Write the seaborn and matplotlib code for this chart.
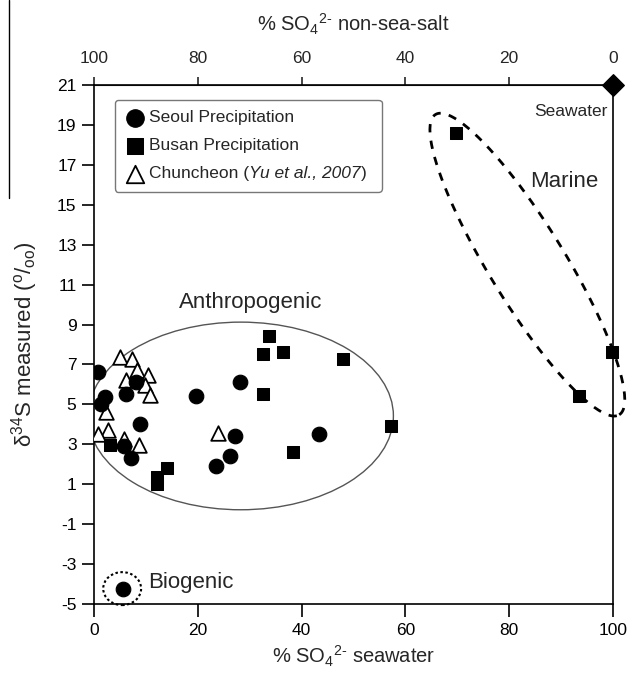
import matplotlib
matplotlib.use("Agg")
import matplotlib.pyplot as plt
import seaborn as sns
import numpy as np
import pandas as pd
from matplotlib.patches import Ellipse
from matplotlib.lines import Line2D

# Seoul precipitation (% SO4 seawater, d34S)
seoul_x = [0.8, 2.1, 1.4, 6.2, 8.2, 8.8, 5.9, 7.2, 19.7, 28.1, 27.2, 26.2, 23.5, 43.3, 5.6]
seoul_y = [6.6, 5.35, 5.0, 5.5, 6.1, 4.0, 2.9, 2.3, 5.4, 6.1, 3.4, 2.4, 1.9, 3.5, -4.25]

# Busan precipitation
busan_x = [33.8, 32.5, 36.5, 47.9, 32.6, 57.2, 38.4, 14.1, 12.1, 12.1, 3.2, 69.7, 99.9, 93.5]
busan_y = [8.4, 7.5, 7.6, 7.25, 5.5, 3.9, 2.6, 1.8, 1.35, 1.0, 2.96, 18.6, 7.6, 5.4]

# Chuncheon (Yu et al., 2007)
chun_x = [5.1, 7.4, 8.3, 10.4, 6.1, 9.8, 10.9, 2.4, 2.8, 0.8, 5.9, 8.6, 24.0]
chun_y = [7.35, 7.25, 6.7, 6.45, 6.2, 5.95, 5.45, 4.6, 3.7, 3.5, 3.25, 2.95, 3.55]

seawater_x = [100]
seawater_y = [21]

bottom_ticks = [0, 20, 40, 60, 80, 100]
top_ticks = [100, 80, 60, 40, 20, 0]
y_ticks = list(range(-5, 22, 2))

sns.set_style("white")
plt.rcParams["font.family"] = ["Liberation Sans", "DejaVu Sans"]
plt.rcParams["mathtext.fontset"] = "custom"
plt.rcParams["mathtext.rm"] = "Liberation Sans"
plt.rcParams["mathtext.it"] = "Liberation Sans:italic"
plt.rcParams["axes.unicode_minus"] = False

fig = plt.figure(figsize=(6.3, 6.82), dpi=100)
ax = fig.add_axes([0.149, 0.1144, 0.824, 0.761])

seoul = pd.DataFrame({"x": seoul_x, "y": seoul_y})
busan = pd.DataFrame({"x": busan_x, "y": busan_y})
chun = pd.DataFrame({"x": chun_x, "y": chun_y})

sns.scatterplot(data=seoul, x="x", y="y", marker="o", s=110, color="black",
                edgecolor="black", ax=ax, zorder=4, label="Seoul Precipitation")
sns.scatterplot(data=busan, x="x", y="y", marker="s", s=85, color="black",
                edgecolor="black", ax=ax, zorder=4, clip_on=False,
                label="Busan Precipitation")
sns.scatterplot(data=chun, x="x", y="y", marker="^", s=110, facecolor="white",
                edgecolor="black", linewidth=1.3, ax=ax, zorder=3,
                label="Chuncheon (Yu et al., 2007) ")
ax.scatter(seawater_x, seawater_y, marker="D", s=120, color="black",
           clip_on=False, zorder=6)

# grouping ellipses
ax.add_patch(Ellipse((28.3, 4.42), 58.8, 9.4, fill=False, edgecolor="#555555",
                     linewidth=1.0, zorder=2))
ax.add_patch(Ellipse((5.45, -4.23), 7.3, 1.65, fill=False, edgecolor="black",
                     linewidth=1.5, linestyle=(0, (1.2, 1.2)), zorder=2,
                     clip_on=False))
t = np.linspace(0, 2 * np.pi, 200)
cx, cy = 83.5, 12.0
ma = np.array([17.7, -7.52])
mb = np.array([6.24, 1.0])
ex = cx + ma[0] * np.cos(t) + mb[0] * np.sin(t)
ey = cy + ma[1] * np.cos(t) + mb[1] * np.sin(t)
ax.plot(ex, ey, color="black", linewidth=2, linestyle=(0, (3, 3)),
        clip_on=False, zorder=2)

ax.text(30.2, 10.1, "Anthropogenic", fontsize=16, ha="center", va="center")
ax.text(84.0, 16.15, "Marine", fontsize=16, ha="left", va="center")
ax.text(10.4, -3.9, "Biogenic", fontsize=16, ha="left", va="center")
ax.text(99.0, 19.66, "Seawater", fontsize=12.5, ha="right", va="center")

ax.set_xlim(0, 100)
ax.set_ylim(-5, 21)
ax.set_xticks(bottom_ticks)
ax.set_yticks(y_ticks)
ax.tick_params(axis="both", direction="out", length=9, width=1.2,
               labelsize=12.5, colors="black", bottom=True, left=True)
ax.tick_params(axis="x", pad=5)
ax.set_xlabel("% SO$_4$$^{2\\text{-}}$ seawater", fontsize=14.5, labelpad=4)
ax.set_ylabel("δ$^{34}$S measured ($^{\\mathrm{o}}$/$_{\\mathrm{oo}}$)",
              fontsize=16, labelpad=12)
for sp in ax.spines.values():
    sp.set_visible(True)
    sp.set_color("black")
    sp.set_linewidth(1.2)

top = ax.secondary_xaxis("top", functions=(lambda v: 100 - v, lambda v: 100 - v))
top.set_xticks(top_ticks)
top.tick_params(direction="out", length=6, width=1.2, labelsize=12.5, pad=8)
top.set_xlabel("% SO$_4$$^{2\\text{-}}$ non-sea-salt", fontsize=14.5, labelpad=14)

leg = ax.legend(loc="upper left", bbox_to_anchor=(0.04, 0.972), borderaxespad=0,
                fontsize=12.5, frameon=True, fancybox=True, edgecolor="#555555",
                handletextpad=0.2, handlelength=1.2, labelspacing=0.75,
                borderpad=0.6, markerscale=1.2)
leg.get_frame().set_linewidth(1.0)
leg.set_zorder(8)

# third legend label: plain "Chuncheon (", italic reference, plain ")"
lab = leg.get_texts()[2]
lab.set_alpha(0)
a1 = ax.annotate("Chuncheon (", xy=(0, 0), xycoords=lab, ha="left", va="bottom",
                 fontsize=12.5, zorder=10)
a2 = ax.annotate("Yu et al., 2007", xy=(1, 0), xycoords=a1, ha="left",
                 va="bottom", fontsize=12.5, style="italic", zorder=10)
ax.annotate(")", xy=(1, 0), xycoords=a2, ha="left", va="bottom",
            fontsize=12.5, zorder=10)

fig.add_artist(Line2D([0.014, 0.014], [1.0, 0.71], color="black", linewidth=1.0))

fig.savefig("out.png", dpi=100)
